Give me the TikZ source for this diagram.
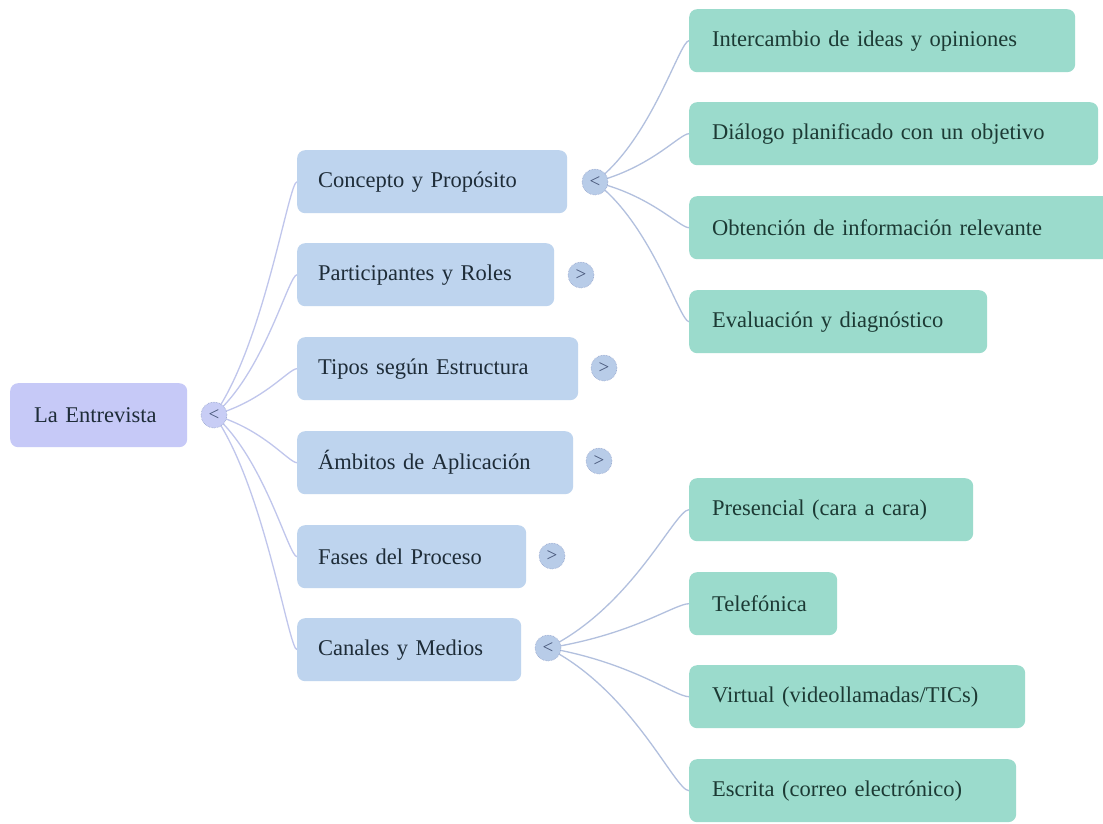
\documentclass[tikz,border=0pt]{standalone}
\usepackage{fontspec}
\setmainfont{Liberation Serif}
\usetikzlibrary{calc,backgrounds}
\definecolor{rootfill}{RGB}{198,201,247}
\definecolor{lonefill}{RGB}{190,212,238}
\definecolor{ltwofill}{RGB}{155,219,204}
\definecolor{txtdark}{RGB}{30,44,56}
\definecolor{txtteal}{RGB}{28,58,52}
\definecolor{rootlink}{RGB}{192,198,236}
\definecolor{lonelink}{RGB}{178,192,222}
\definecolor{rtog}{RGB}{200,205,245}
\definecolor{otog}{RGB}{184,204,232}
\definecolor{togline}{RGB}{150,165,205}
\definecolor{togtxt}{RGB}{70,85,120}
\newcommand\lnk[3]{\draw[#1] let \p1=(#2), \p2=(#3.west) in (\p1) .. controls ({\x1+0.6*(\x2-\x1)},{\y1+0.3*(\y2-\y1)}) and ({\x1+0.9*(\x2-\x1)},{\y2}) .. (\p2);}
\begin{document}
\begin{tikzpicture}[x=1pt,y=-1pt,
  every node/.style={font=\fontsize{22.5}{27}\selectfont},
  boxbase/.style={anchor=north west, rounded corners=8pt, minimum height=63pt, inner ysep=0pt, align=left},
  rootbox/.style={boxbase, fill=rootfill, text=txtdark, inner xsep=24pt, minimum height=64pt},
  lonebox/.style={boxbase, fill=lonefill, text=txtdark, inner xsep=21pt},
  ltwobox/.style={boxbase, fill=ltwofill, text=txtteal, inner xsep=23pt},
  togbase/.style={circle, minimum size=26pt, inner sep=0pt, draw=togline, densely dotted, line width=0.6pt, text=togtxt, font=\fontsize{19}{19}\selectfont},
  rtogg/.style={togbase, fill=rtog},
  otogg/.style={togbase, fill=otog},
  rlink/.style={rootlink, line width=1.3pt},
  olink/.style={lonelink, line width=1.3pt}
]
\clip (0,0) rectangle (1103,824);

% root
\node[rootbox, text width=129pt] (root) at (10,383) {La Entrevista};
\node[rtogg] (troot) at (214,415) {<};

% level 1
\node[lonebox, text width=228pt] (concepto) at (297,150) {Concepto y Propósito};
\node[lonebox, text width=215pt] (particip) at (297,243) {Participantes y Roles};
\node[lonebox, text width=239pt] (tipos) at (297,337) {Tipos según Estructura};
\node[lonebox, text width=234pt] (ambitos) at (297,431) {Ámbitos de Aplicación};
\node[lonebox, text width=187pt] (fases) at (297,525) {Fases del Proceso};
\node[lonebox, text width=182pt] (canales) at (297,618) {Canales y Medios};

\node[otogg] (tconcepto) at (595,182) {<};
\node[otogg] (tparticip) at (581,275) {>};
\node[otogg] (ttipos) at (604,368) {>};
\node[otogg] (tambitos) at (599,461) {>};
\node[otogg] (tfases) at (552,556) {>};
\node[otogg] (tcanales) at (548,648) {<};

% level 2
\node[ltwobox, text width=340pt] (interc) at (689,9) {Intercambio de ideas y opiniones};
\node[ltwobox, text width=363pt] (dialogo) at (689,102) {Diálogo planificado con un objetivo};
\node[ltwobox, text width=384pt] (obtencion) at (689,196) {Obtención de información relevante};
\node[ltwobox, text width=252pt] (evaluacion) at (689,290) {Evaluación y diagnóstico};
\node[ltwobox, text width=238pt] (presencial) at (689,478) {Presencial (cara a cara)};
\node[ltwobox, text width=102pt] (telefonica) at (689,572) {Telefónica};
\node[ltwobox, text width=290pt] (virtual) at (689,665) {Virtual (videollamadas/TICs)};
\node[ltwobox, text width=281pt] (escrita) at (689,759) {Escrita (correo electrónico)};

\begin{scope}[on background layer]
\fill[white] (0,0) rectangle (1103,824);
\lnk{rlink}{troot.center}{concepto}
\lnk{rlink}{troot.center}{particip}
\lnk{rlink}{troot.center}{tipos}
\lnk{rlink}{troot.center}{ambitos}
\lnk{rlink}{troot.center}{fases}
\lnk{rlink}{troot.center}{canales}
\lnk{olink}{tconcepto.center}{interc}
\lnk{olink}{tconcepto.center}{dialogo}
\lnk{olink}{tconcepto.center}{obtencion}
\lnk{olink}{tconcepto.center}{evaluacion}
\lnk{olink}{tcanales.center}{presencial}
\lnk{olink}{tcanales.center}{telefonica}
\lnk{olink}{tcanales.center}{virtual}
\lnk{olink}{tcanales.center}{escrita}
\end{scope}
\end{tikzpicture}
\end{document}
